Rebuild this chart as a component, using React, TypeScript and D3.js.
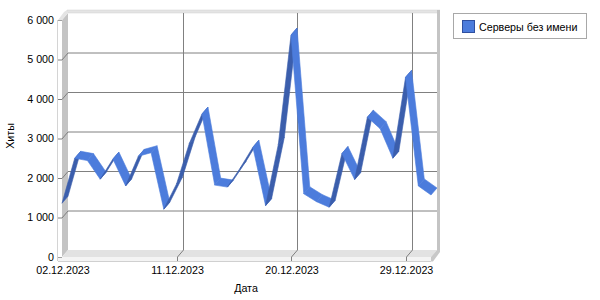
import React from "react";
import * as d3 from "d3";

const dates = [
  "02.12.2023","03.12.2023","04.12.2023","05.12.2023","06.12.2023","07.12.2023",
  "08.12.2023","09.12.2023","10.12.2023","11.12.2023","12.12.2023","13.12.2023",
  "14.12.2023","15.12.2023","16.12.2023","17.12.2023","18.12.2023","19.12.2023",
  "20.12.2023","21.12.2023","22.12.2023","23.12.2023","24.12.2023","25.12.2023",
  "26.12.2023","27.12.2023","28.12.2023","29.12.2023","30.12.2023","31.12.2023",
];
const hits = [
  1360, 2500, 2440, 1970, 2480, 1800, 2550, 2640, 1210, 1850, 2870, 3620,
  1820, 1770, 2250, 2780, 1300, 2850, 5620, 1600, 1400, 1260, 2620, 1960,
  3540, 3250, 2500, 4550, 1800, 1570,
];
const yTicks = [0, 1000, 2000, 3000, 4000, 5000, 6000];
const xTickLabels = ["02.12.2023", "11.12.2023", "20.12.2023", "29.12.2023"];
const seriesName = "Серверы без имени";
const xTitle = "Дата";
const yTitle = "Хиты";

const FONT = "'Liberation Sans', Arial, sans-serif";
const DX = 6;
const DY = 7;
const LIGHT = "#4c7cdc";
const DARK = "#3b5eac";

export default function App() {
  const x = d3.scalePoint<string>().domain(dates).range([62, 431]);
  const y = d3.scaleLinear().domain([0, 6000]).range([257, 20]);
  const fmt = d3.formatLocale({ decimal: ",", thousands: "\u00a0", grouping: [3], currency: ["", ""] }).format(",");

  const xL = x(dates[0])!;
  const xR = x(dates[dates.length - 1])!;
  const yB = y(0);
  const yT = y(6000);

  const pts = dates.map((d, i) => [x(d)!, y(hits[i])] as [number, number]);
  const segs = pts.slice(0, -1).map((p, i) => {
    const q = pts[i + 1];
    const poly = [p, q, [q[0] + DX, q[1] - DY], [p[0] + DX, p[1] - DY]];
    const ddx = q[0] - p[0];
    const ddy = q[1] - p[1];
    const cross = ddx * -DY - ddy * DX;
    return { poly, fill: cross > 0 ? DARK : LIGHT };
  });

  const ps = (arr: number[][]) => arr.map((a) => a.join(",")).join(" ");

  return (
    <svg width={600} height={300} style={{ position: "absolute", left: 0, top: 0, background: "#fff" }} fontFamily={FONT}>
      {/* back wall */}
      <rect x={xL + DX} y={yT - DY} width={xR - xL} height={yB - yT} fill="#ffffff" />
      {/* back wall thickness: top and right */}
      <polygon points={ps([[xL + DX - 1, yT - DY - 3], [xR + DX + 3, yT - DY - 3], [xR + DX, yT - DY], [xL + DX, yT - DY]])} fill="#e4e4e4" stroke="#d0d0d0" strokeWidth={0.5} />
      <rect x={xR + DX} y={yT - DY - 3} width={3} height={yB - yT + 3} fill="#c4c4c4" />
      {/* left wall inner face */}
      <polygon points={ps([[xL, yT], [xL + DX, yT - DY], [xL + DX, yB - DY], [xL, yB]])} fill="#c4c4c4" />
      {/* left wall front face */}
      <polygon points={ps([[xL - 4, yT], [xL, yT], [xL + DX, yT - DY], [xL + DX - 1, yT - DY - 3], [xL - 4 + DX, yT - DY - 1]])} fill="#e4e4e4" />
      <rect x={xL - 4} y={yT} width={4} height={yB - yT + 4} fill="#ffffff" />
      <line x1={xL - 4.5} x2={xL - 4.5} y1={yT} y2={yB + 4} stroke="#d4d4d4" />
      {/* floor top face */}
      <polygon points={ps([[xL, yB], [xL + DX, yB - DY], [xR + DX, yB - DY], [xR, yB]])} fill="#e2e2e2" />
      {/* floor front face */}
      <rect x={xL - 4} y={yB} width={xR - xL + 4} height={4} fill="#f4f4f4" />
      <line x1={xL - 4} x2={xR} y1={yB + 4.5} y2={yB + 4.5} stroke="#d0d0d0" />
      {/* floor right side */}
      <polygon points={ps([[xR, yB], [xR + DX, yB - DY], [xR + DX + 3, yB - DY], [xR + DX + 3, yB - DY + 2], [xR + 2, yB + 4.5], [xR, yB + 4.5]])} fill="#c8c8c8" />

      {/* horizontal gridlines */}
      {yTicks.filter((v) => v > 0 && v < 6000).map((v) => (
        <g key={"h" + v} stroke="#808080" strokeWidth={1} fill="none">
          <polyline points={ps([[xL - 4, y(v) + 0.5], [xL, y(v) + 0.5], [xL + DX, y(v) - DY + 0.5], [xR + DX, y(v) - DY + 0.5]])} />
        </g>
      ))}
      {yTicks.filter((v) => v === 0 || v === 6000).map((v) => (
        <line key={"t" + v} x1={xL - 4} x2={xL} y1={y(v) + 0.5} y2={y(v) + 0.5} stroke="#a0a0a0" />
      ))}
      {/* vertical gridlines */}
      {xTickLabels.slice(1).map((d) => {
        const xf = Math.round(x(d)!) + 0.5;
        return (
          <polyline key={"v" + d} points={ps([[xf + DX, yT - DY], [xf + DX, yB - DY], [xf, yB], [xf, yB + 4]])} stroke="#808080" fill="none" />
        );
      })}

      {/* ribbon */}
      {segs.map((s, i) => (
        <polygon key={"s" + i} points={ps(s.poly)} fill={s.fill} stroke={s.fill} strokeWidth={0.6} strokeLinejoin="round" />
      ))}

      {/* y tick labels */}
      {yTicks.map((v) => (
        <text key={"yl" + v} x={54} y={y(v)} dy="0.36em" textAnchor="end" fontSize={10.7} fill="#000">
          {fmt(v)}
        </text>
      ))}
      {/* x tick labels */}
      {xTickLabels.map((d) => (
        <text key={"xl" + d} x={x(d)! + 1} y={270} dy="0.36em" textAnchor="middle" fontSize={10.7} fill="#000">
          {d}
        </text>
      ))}
      {/* axis titles */}
      <text x={246} y={288} dy="0.36em" textAnchor="middle" fontSize={10.7} fill="#000">{xTitle}</text>
      <text transform="translate(10,136) rotate(-90)" dy="0.36em" textAnchor="middle" fontSize={10.7} fill="#000">{yTitle}</text>

      {/* legend */}
      <rect x={453.5} y={13.5} width={133} height={25} fill="#fff" stroke="#a8a8a8" />
      <rect x={462.5} y={20.5} width={12} height={12} fill={LIGHT} stroke="#2f4f9f" />
      <text x={479} y={27} dy="0.36em" fontSize={10.7} fill="#000">{seriesName}</text>
    </svg>
  );
}
